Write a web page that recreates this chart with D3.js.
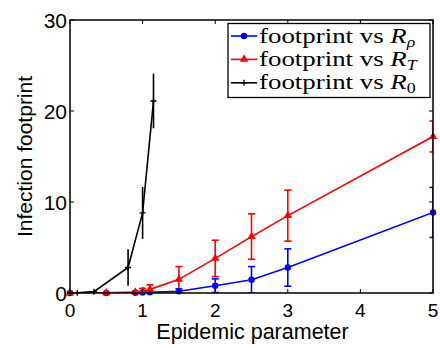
<!DOCTYPE html>
<html>
<head>
<meta charset="utf-8">
<script src="https://cdn.jsdelivr.net/npm/d3@7"></script>
<style>
  body { margin: 0; background: #fff; }
  svg { display: block; }
</style>
</head>
<body>
<div class="content"></div>
<script>
const W = 440, H = 348;
const M = {left: 70, right: 7, top: 20, bottom: 55};

// footprint vs R_rho (blue)
const rhoX   = [0, 0.5, 0.9, 1.0, 1.1, 1.5, 2, 2.5, 3, 5];
const rhoY   = [0, 0, 0.02, 0.05, 0.08, 0.2, 0.8, 1.45, 2.8, 8.85];
const rhoErr = [0, 0, 0, 0.05, 0.1, 0.25, 0.75, 1.45, 2.05, 2.75];
// footprint vs R_T (red)
const tX   = [0, 0.5, 0.9, 1.0, 1.1, 1.5, 2, 2.5, 3, 5];
const tY   = [0, 0.02, 0.1, 0.2, 0.4, 1.5, 3.8, 6.2, 8.5, 17.2];
const tErr = [0, 0, 0.1, 0.3, 0.5, 1.4, 2.0, 2.5, 2.8, 1.7];
// footprint vs R_0 (black)
const r0X   = [0, 0.1, 0.33, 0.8, 1.0, 1.15];
const r0Y   = [0, 0.02, 0.15, 2.8, 8.8, 21.1];
const r0Err = [0, 0, 0.1, 2.0, 2.85, 3.0];

const xTicks = [0, 1, 2, 3, 4, 5];
const yTicks = [0, 10, 20, 30];

const svg = d3.select(".content").append("svg").attr("width", W).attr("height", H);

const x = d3.scaleLinear().domain([0, 5]).range([M.left, W - M.right]);
const y = d3.scaleLinear().domain([0, 30]).range([H - M.bottom, M.top]);

svg.append("clipPath").attr("id", "clip")
  .append("rect")
  .attr("x", M.left).attr("y", M.top)
  .attr("width", W - M.right - M.left).attr("height", H - M.bottom - M.top);

const series = [
  {xs: rhoX, ys: rhoY, es: rhoErr, color: "#0000ff", marker: "circle", cap: true},
  {xs: tX, ys: tY, es: tErr, color: "#ff0000", marker: "triangle", cap: true},
  {xs: r0X, ys: r0Y, es: r0Err, color: "#000000", marker: "plus", cap: false}
];
series.forEach(s => s.pts = s.xs.map((v, i) => ({x: v, y: s.ys[i], e: s.es[i]})));

const line = d3.line().x(d => x(d.x)).y(d => y(d.y));
const plot = svg.append("g").attr("clip-path", "url(#clip)");

function drawMarker(g, type, color, cx, cy) {
  if (type === "circle") {
    g.append("circle").attr("cx", cx).attr("cy", cy).attr("r", 3.2).attr("fill", color);
  } else if (type === "triangle") {
    g.append("path").attr("d", d3.symbol(d3.symbolTriangle, 30)()).attr("transform", `translate(${cx},${cy})`).attr("fill", color);
  } else {
    g.append("path").attr("d", `M${cx-3},${cy}H${cx+3}M${cx},${cy-3}V${cy+3}`).attr("stroke", color).attr("stroke-width", 1.3);
  }
}

series.forEach(s => {
  const g = plot.append("g");
  g.append("path").attr("d", line(s.pts)).attr("fill", "none")
    .attr("stroke", s.color).attr("stroke-width", 1.6);
  s.pts.forEach(p => {
    if (p.e <= 0) return;
    const cx = x(p.x), y0 = y(p.y - p.e), y1 = y(p.y + p.e);
    g.append("line").attr("x1", cx).attr("x2", cx).attr("y1", y0).attr("y2", y1)
      .attr("stroke", s.color).attr("stroke-width", 1.6);
    if (s.cap) {
      [y0, y1].forEach(yy => g.append("line").attr("x1", cx - 3.5).attr("x2", cx + 3.5)
        .attr("y1", yy).attr("y2", yy).attr("stroke", s.color).attr("stroke-width", 1.6));
    }
  });
});
series.forEach(s => {
  const g = svg.append("g");
  s.pts.forEach(p => drawMarker(g, s.marker, s.color, x(p.x), y(p.y)));
});

// axes with inward ticks on all sides
const axG = svg.append("g").attr("font-family", "'Liberation Sans', Arial, sans-serif");
const x0 = M.left, x1 = W - M.right, y0 = H - M.bottom, y1 = M.top;
axG.append("rect").attr("x", x0).attr("y", y1).attr("width", x1 - x0).attr("height", y0 - y1)
  .attr("fill", "none").attr("stroke", "#000").attr("stroke-width", 1.5);
xTicks.forEach(t => {
  axG.append("line").attr("x1", x(t)).attr("x2", x(t)).attr("y1", y0).attr("y2", y0 - 4).attr("stroke", "#000");
  axG.append("line").attr("x1", x(t)).attr("x2", x(t)).attr("y1", y1).attr("y2", y1 + 4).attr("stroke", "#000");
  axG.append("text").attr("x", x(t)).attr("y", y0 + 24).attr("text-anchor", "middle")
    .attr("font-size", 19).text(t);
});
yTicks.forEach(t => {
  axG.append("line").attr("x1", x0).attr("x2", x0 + 4).attr("y1", y(t)).attr("y2", y(t)).attr("stroke", "#000");
  axG.append("line").attr("x1", x1).attr("x2", x1 - 4).attr("y1", y(t)).attr("y2", y(t)).attr("stroke", "#000");
  axG.append("text").attr("x", x0 - 3).attr("y", y(t) + 7.5).attr("text-anchor", "end")
    .attr("font-size", 21).text(t);
});
axG.append("text").attr("x", (x0 + x1) / 2 + 1).attr("y", 339).attr("text-anchor", "middle")
  .attr("font-size", 21.5).text("Epidemic parameter");
axG.append("text").attr("transform", `translate(32,${(y0 + y1) / 2}) rotate(-90)`)
  .attr("text-anchor", "middle").attr("font-size", 21).text("Infection footprint");

// legend
const lg = svg.append("g").attr("font-family", "'Liberation Serif', 'Times New Roman', serif");
lg.append("rect").attr("x", 228).attr("y", 23.5).attr("width", 202).attr("height", 74)
  .attr("fill", "#fff").attr("stroke", "#000").attr("stroke-width", 1.3);
const legSubs = ["ρ", "T", "0"];
series.forEach((s, i) => {
  const ly = 36 + i * 23.4;
  lg.append("line").attr("x1", 231).attr("x2", 257).attr("y1", ly).attr("y2", ly)
    .attr("stroke", s.color).attr("stroke-width", 1.6);
  drawMarker(lg, s.marker, s.color, 244, ly);
  const t = lg.append("text").attr("transform", `translate(259,${ly + 6.5}) scale(1.28,1)`)
    .attr("font-size", 21);
  t.append("tspan").text("footprint vs ");
  t.append("tspan").attr("font-style", "italic").text("R");
  t.append("tspan").attr("font-size", 14).attr("font-style", i === 2 ? "normal" : "italic")
    .attr("dy", 4).text(legSubs[i]);
});
</script>
</body>
</html>
